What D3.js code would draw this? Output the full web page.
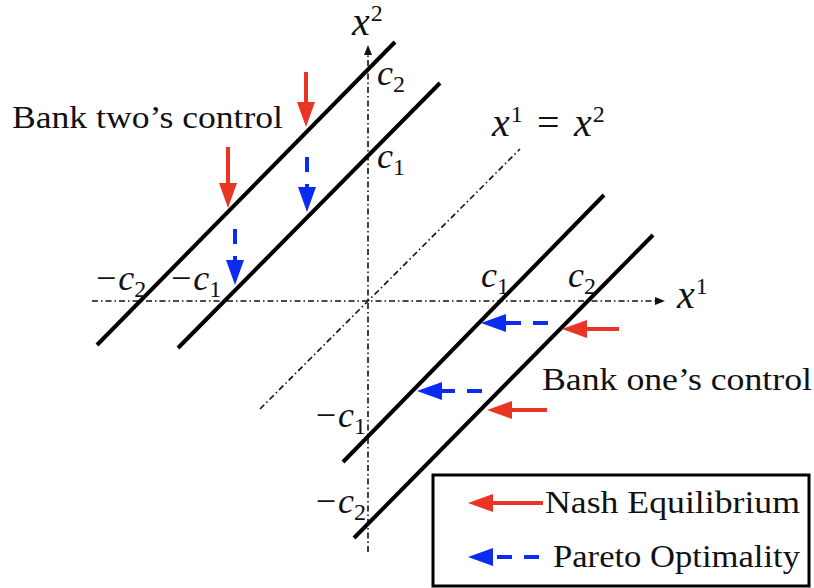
<!DOCTYPE html>
<html>
<head>
<meta charset="utf-8">
<script src="https://cdn.jsdelivr.net/npm/d3@7"></script>
<style>
  body { margin: 0; background: #fff; }
  text { font-family: "Liberation Serif", "Times New Roman", serif; fill: #111; }
</style>
</head>
<body>
<script>
// --- data (in diagram units, origin at the crossing of the axes) ---
// the four boundary lines x2 = x1 + k, given by their end points [x1, x2]
var boundaryLines = [
  [[-2.71, -0.44], [0.27, 2.59]],   // x2 = x1 + c2
  [[-1.90, -0.47], [0.72, 2.18]],   // x2 = x1 + c1
  [[-0.25, -1.61], [2.36, 1.06]],   // x2 = x1 - c1
  [[-0.14, -2.37], [2.85, 0.66]]    // x2 = x1 - c2
];
var diagonal = [[-1.08, -1.08], [1.52, 1.52]];
var xAxisExtent = [-2.76, 2.97];
var yAxisExtent = [-2.51, 2.56];

// arrows: tail and tip, [x1, x2]
var nashArrows = [
  [[-0.62, 2.29], [-0.62, 1.74]],
  [[-1.40, 1.54], [-1.40, 0.93]],
  [[2.51, -0.28], [1.94, -0.28]],
  [[1.79, -1.09], [1.19, -1.09]]
];
var paretoArrows = [
  [[-0.61, 1.44], [-0.61, 0.89]],
  [[-1.33, 0.72], [-1.33, 0.16]],
  [[1.80, -0.22], [1.13, -0.22]],
  [[1.14, -0.90], [0.49, -0.90]]
];

// tick labels: [x1, x2, minus, subscript, anchor]
var tickLabels = [
  [0.09, 2.16, false, "2", "start"],
  [0.09, 1.33, false, "1", "start"],
  [-0.01, -1.26, true, "1", "end"],
  [-0.01, -2.12, true, "2", "end"],
  [-2.71, 0.11, true, "2", "start"],
  [-1.96, 0.11, true, "1", "start"],
  [1.13, 0.14, false, "1", "start"],
  [2.00, 0.14, false, "2", "start"]
];
var textLabels = [
  ["Bank two\u2019s control", -3.56, 1.73, 271],
  ["Bank one\u2019s control", 1.74, -0.89, 270]
];
var legendNames = ["Nash Equilibrium", "Pareto Optimality"];
var legendWidths = [255, 247];

var red = "#ea3526";
var blue = "#0a2cf2";

var w = 814, h = 588;

var svg = d3.select("body").append("svg")
  .attr("width", w)
  .attr("height", h);

// 1 unit = 100 px, origin at (368, 301)
var x = d3.scaleLinear().domain([-3.68, 4.46]).range([0, w]);
var y = d3.scaleLinear().domain([3.01, -2.87]).range([0, h]);

var dashDot = "6,3,1.5,3";

// axes
svg.append("line")
  .attr("x1", x(xAxisExtent[0])).attr("y1", y(0))
  .attr("x2", x(xAxisExtent[1]) - 8).attr("y2", y(0))
  .attr("stroke", "#111").attr("stroke-width", 1.6)
  .attr("stroke-dasharray", dashDot);
svg.append("path")
  .attr("d", "M" + x(xAxisExtent[1]) + "," + y(0) + "l-10,-4l0,8z")
  .attr("fill", "#111");

svg.append("line")
  .attr("x1", x(0)).attr("y1", y(yAxisExtent[0]))
  .attr("x2", x(0)).attr("y2", y(yAxisExtent[1]) + 8)
  .attr("stroke", "#111").attr("stroke-width", 1.6)
  .attr("stroke-dasharray", dashDot);
svg.append("path")
  .attr("d", "M" + x(0) + "," + y(yAxisExtent[1]) + "l-4,10l8,0z")
  .attr("fill", "#111");

// 45 degree line x1 = x2
svg.append("line")
  .attr("x1", x(diagonal[0][0])).attr("y1", y(diagonal[0][1]))
  .attr("x2", x(diagonal[1][0])).attr("y2", y(diagonal[1][1]))
  .attr("stroke", "#111").attr("stroke-width", 1.6)
  .attr("stroke-dasharray", dashDot);

// boundary lines
svg.selectAll(".bound")
  .data(boundaryLines)
  .enter().append("line")
  .attr("class", "bound")
  .attr("x1", d => x(d[0][0])).attr("y1", d => y(d[0][1]))
  .attr("x2", d => x(d[1][0])).attr("y2", d => y(d[1][1]))
  .attr("stroke", "#000").attr("stroke-width", 4);

// arrow from tail (px) to tip (px)
function arrow(g, tx, ty, px, py, color, dashed) {
  var dx = px - tx, dy = py - ty;
  var len = Math.sqrt(dx * dx + dy * dy);
  var ux = dx / len, uy = dy / len;
  var head = 25, half = 9;
  var bx = px - ux * head, by = py - uy * head;
  g.append("line")
    .attr("x1", tx).attr("y1", ty)
    .attr("x2", bx + ux * 1).attr("y2", by + uy * 1)
    .attr("stroke", color).attr("stroke-width", 4)
    .attr("stroke-dasharray", dashed ? "15,12" : null);
  g.append("path")
    .attr("d", "M" + px + "," + py +
      "L" + (bx - uy * half) + "," + (by + ux * half) +
      "L" + (bx + uy * half) + "," + (by - ux * half) + "Z")
    .attr("fill", color);
}

var arrows = svg.append("g");
nashArrows.forEach(function(a) {
  arrow(arrows, x(a[0][0]), y(a[0][1]), x(a[1][0]), y(a[1][1]), red, false);
});
paretoArrows.forEach(function(a) {
  arrow(arrows, x(a[0][0]), y(a[0][1]), x(a[1][0]), y(a[1][1]), blue, true);
});

// tick labels like -c_1
svg.selectAll(".tick")
  .data(tickLabels)
  .enter().append("text")
  .attr("class", "tick")
  .attr("x", d => x(d[0]))
  .attr("y", d => y(d[1]))
  .attr("text-anchor", d => d[4])
  .attr("font-size", 36)
  .each(function(d) {
    var t = d3.select(this);
    if (d[2]) t.append("tspan").attr("dx", -1).text("\u2212");
    t.append("tspan").attr("font-style", "italic").attr("dx", d[2] ? 2 : 0).text("c");
    t.append("tspan").attr("font-size", 24).attr("dy", 7).text(d[3]);
  });

// axis names
function sup(t, base, s) {
  t.append("tspan").attr("font-style", "italic").text(base);
  t.append("tspan").attr("font-size", 24).attr("dx", 1).attr("dy", -14).text(s);
}
var xName = svg.append("text").attr("x", x(3.09)).attr("y", y(-0.07)).attr("font-size", 40);
sup(xName, "x", "1");
var yName = svg.append("text").attr("x", x(-0.16)).attr("y", y(2.66)).attr("font-size", 40);
sup(yName, "x", "2");

var diagName = svg.append("text").attr("x", x(1.24)).attr("y", y(1.65)).attr("font-size", 40);
sup(diagName, "x", "1");
diagName.append("tspan").attr("x", x(1.69)).attr("dy", 14).text("=");
diagName.append("tspan").attr("x", x(2.06)).attr("font-style", "italic").text("x");
diagName.append("tspan").attr("font-size", 24).attr("dx", 1).attr("dy", -14).text("2");

// plain labels
svg.selectAll(".lab")
  .data(textLabels)
  .enter().append("text")
  .attr("class", "lab")
  .attr("x", d => x(d[1]))
  .attr("y", d => y(d[2]))
  .attr("font-size", 32)
  .attr("textLength", d => d[3])
  .attr("lengthAdjust", "spacingAndGlyphs")
  .text(d => d[0]);

// legend
var legend = svg.append("g");
legend.append("rect")
  .attr("x", 433).attr("y", 475)
  .attr("width", 376).attr("height", 111)
  .attr("fill", "#fff").attr("stroke", "#000").attr("stroke-width", 3);

legendNames.forEach(function(name, i) {
  var ly = 503 + i * 54;
  if (i == 0) {
    arrow(legend, 543, ly, 468, ly, red, false);
  } else {
    arrow(legend, 539, ly, 468, ly, blue, true);
  }
  legend.append("text")
    .attr("x", i == 0 ? 545 : 553)
    .attr("y", ly + 10)
    .attr("font-size", 32)
    .attr("textLength", legendWidths[i])
    .attr("lengthAdjust", "spacingAndGlyphs")
    .text(name);
});
</script>
</body>
</html>
